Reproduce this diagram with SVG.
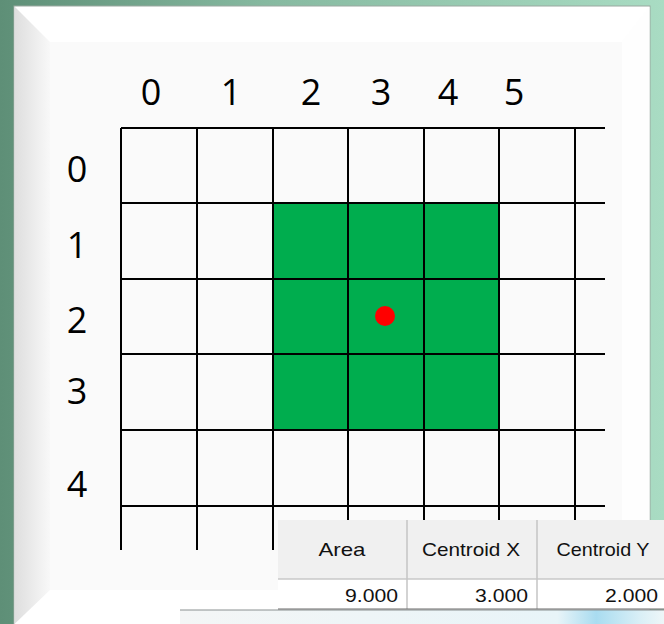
<svg xmlns="http://www.w3.org/2000/svg" width="664" height="624" viewBox="0 0 664 624">
<defs>
<linearGradient id="bg" x1="0" y1="0" x2="1" y2="0">
<stop offset="0" stop-color="#5e8f77"/>
<stop offset="0.4" stop-color="#86b9a0"/>
<stop offset="1" stop-color="#a9dcc3"/>
</linearGradient>
<linearGradient id="bevL" x1="0" y1="0" x2="1" y2="0">
<stop offset="0" stop-color="#dedede"/>
<stop offset="1" stop-color="#f8f8f8"/>
</linearGradient>
<linearGradient id="strip" x1="0" y1="0" x2="1" y2="0">
<stop offset="0" stop-color="#f4f6f6"/>
<stop offset="0.78" stop-color="#e8f4f8"/>
<stop offset="0.86" stop-color="#a9dcf0"/>
<stop offset="0.95" stop-color="#d9eff6"/>
<stop offset="1" stop-color="#eef6f8"/>
</linearGradient>
<style>
.lbl{font-family:"Open Sans","Noto Sans","DejaVu Sans",sans-serif;font-size:36px;fill:#000;text-anchor:middle}
.grid{stroke:#000;stroke-width:2;fill:none}
.th{font-family:"Liberation Sans Narrow","Liberation Sans",Arial,sans-serif;font-size:19px;fill:#111;text-anchor:middle}
.td{font-family:"Liberation Sans Narrow","Liberation Sans",Arial,sans-serif;font-size:19px;fill:#111;text-anchor:end}
</style>
</defs>
<rect x="0" y="0" width="664" height="624" fill="url(#bg)"/>
<g id="panel">
<rect x="14" y="6" width="636" height="620" fill="#ffffff" stroke="#9aa8a0" stroke-width="1"/>
<polygon points="14.5,6.5 50,42 50,590 14.5,624" fill="url(#bevL)"/>
<polygon points="649.5,6.5 649.5,624 622,590 622,42" fill="#fefefe"/>
<rect x="50" y="42" width="572" height="548" fill="#fafafa"/>
</g>
<g id="cells">
<rect x="273" y="203" width="226" height="227" fill="#00ad4e"/>
</g>
<g id="grid" class="grid">
<path d="M121,128H605M121,203H605M121,279H605M121,354H605M121,430H605M121,506H605"/>
<path d="M121,128V550M197,128V550M273,128V550M348,128V520M424,128V520M499,128V520M575,128V520"/>
</g>
<g id="centroid"><circle cx="385" cy="316" r="10" fill="#ff0000"/></g>
<g id="col-labels">
<text class="lbl" x="151" y="105">0</text>
<text class="lbl" x="231" y="105">1</text>
<text class="lbl" x="311" y="105">2</text>
<text class="lbl" x="381" y="105">3</text>
<text class="lbl" x="448" y="105">4</text>
<text class="lbl" x="514" y="105">5</text>
</g>
<g id="row-labels">
<text class="lbl" x="77" y="182">0</text>
<text class="lbl" x="77" y="258">1</text>
<text class="lbl" x="77" y="333">2</text>
<text class="lbl" x="77" y="404">3</text>
<text class="lbl" x="77" y="497">4</text>
</g>
<g id="window">
<rect x="180" y="610" width="484" height="14" fill="url(#strip)"/>
<line x1="180" y1="610" x2="664" y2="610" stroke="#8a9090" stroke-width="1"/>
</g>
<g id="table">
<rect x="278" y="520" width="386" height="59" fill="#f0f0f0"/>
<rect x="278" y="579" width="386" height="30" fill="#ffffff"/>
<line x1="278" y1="579" x2="664" y2="579" stroke="#c8c8c8" stroke-width="1.5"/>
<line x1="407" y1="520" x2="407" y2="609" stroke="#c4c4c4" stroke-width="1.5"/>
<line x1="537" y1="520" x2="537" y2="609" stroke="#c4c4c4" stroke-width="1.5"/>
<line x1="278" y1="609" x2="664" y2="609" stroke="#6a6a6a" stroke-width="1"/>
<text class="th" x="342" y="556" textLength="47" lengthAdjust="spacingAndGlyphs">Area</text>
<text class="th" x="471" y="556" textLength="98" lengthAdjust="spacingAndGlyphs">Centroid X</text>
<text class="th" x="603" y="556" textLength="93" lengthAdjust="spacingAndGlyphs">Centroid Y</text>
<text class="td" x="398" y="602" textLength="53" lengthAdjust="spacingAndGlyphs">9.000</text>
<text class="td" x="528" y="602" textLength="53" lengthAdjust="spacingAndGlyphs">3.000</text>
<text class="td" x="658" y="602" textLength="53" lengthAdjust="spacingAndGlyphs">2.000</text>
</g>
</svg>
